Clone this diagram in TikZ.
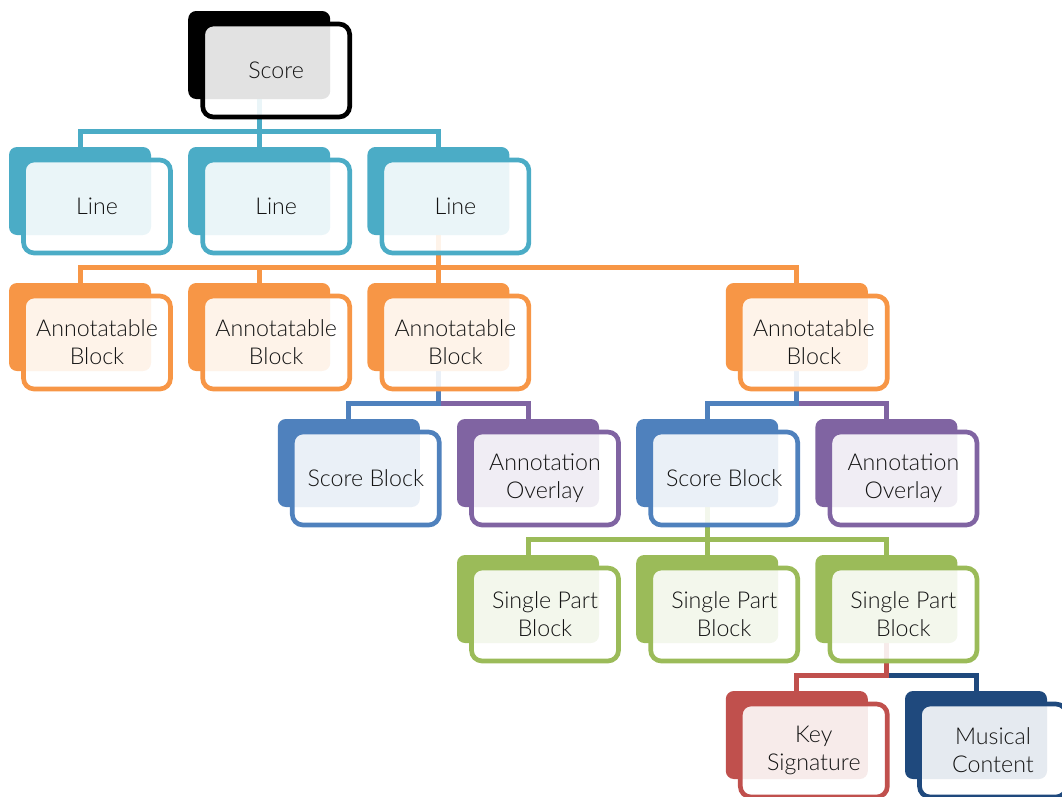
\documentclass[tikz,border=0pt]{standalone}
\usepackage{fontspec}
\setmainfont{Lato}[UprightFont=* Light]
\pgfdeclarelayer{background}
\pgfsetlayers{background,main}
\definecolor{cAqua}{HTML}{4BACC6}
\definecolor{cOrange}{HTML}{F79646}
\definecolor{cBlue}{HTML}{4F81BD}
\definecolor{cPurple}{HTML}{8064A2}
\definecolor{cGreen}{HTML}{9BBB59}
\definecolor{cRed}{HTML}{C0504D}
\definecolor{cNavy}{HTML}{1F497D}
\definecolor{cText}{HTML}{141414}
\tikzset{
  backbox/.style={rounded corners=6pt, minimum width=106.5pt, minimum height=66pt, inner sep=0pt},
  frontbox/.style={rounded corners=8pt, minimum width=110.25pt, minimum height=69.75pt, inner sep=0pt,
    line width=3.5pt, fill=white, fill opacity=0.885, text opacity=1, align=center,
    text=cText, font=\fontsize{17.4}{21}\selectfont},
  conn/.style={line width=3.75pt}
}
\newcommand\orgbox[5]{%
  \node[backbox, fill=#4] (#1-b) at ({9+89.6*#2+71},{11+136*#3+44}) {};
  \node[frontbox, draw=#4] (#1) at ({9+89.6*#2+88},{11+136*#3+59.5}) {#5};
}
\newcommand\orglink[3]{\draw[conn, draw=#3] (#1-b.south) -- ++(0,32) -| (#2-b.north);}
\begin{document}
\begin{tikzpicture}[x=0.75pt,y=-0.75pt]
\useasboundingbox (0,0) rectangle (1062,796);
\orgbox{score}{2}{0}{black}{Score}
\orgbox{l1}{0}{1}{cAqua}{Line}
\orgbox{l2}{2}{1}{cAqua}{Line}
\orgbox{l3}{4}{1}{cAqua}{Line}
\orgbox{a1}{0}{2}{cOrange}{Annotatable\\Block}
\orgbox{a2}{2}{2}{cOrange}{Annotatable\\Block}
\orgbox{a3}{4}{2}{cOrange}{Annotatable\\Block}
\orgbox{a4}{8}{2}{cOrange}{Annotatable\\Block}
\orgbox{sb1}{3}{3}{cBlue}{Score Block}
\orgbox{ao1}{5}{3}{cPurple}{Annotation\\Overlay}
\orgbox{sb2}{7}{3}{cBlue}{Score Block}
\orgbox{ao2}{9}{3}{cPurple}{Annotation\\Overlay}
\orgbox{sp1}{5}{4}{cGreen}{Single Part\\Block}
\orgbox{sp2}{7}{4}{cGreen}{Single Part\\Block}
\orgbox{sp3}{9}{4}{cGreen}{Single Part\\Block}
\orgbox{ks}{8}{5}{cRed}{Key\\Signature}
\orgbox{mc}{10}{5}{cNavy}{Musical\\Content}
\begin{pgfonlayer}{background}
\orglink{score}{l3}{cAqua}
\orglink{score}{l2}{cAqua}
\orglink{score}{l1}{cAqua}
\orglink{l3}{a4}{cOrange}
\orglink{l3}{a3}{cOrange}
\orglink{l3}{a2}{cOrange}
\orglink{l3}{a1}{cOrange}
\orglink{a3}{ao1}{cPurple}
\orglink{a3}{sb1}{cBlue}
\orglink{a4}{ao2}{cPurple}
\orglink{a4}{sb2}{cBlue}
\orglink{sb2}{sp3}{cGreen}
\orglink{sb2}{sp2}{cGreen}
\orglink{sb2}{sp1}{cGreen}
\orglink{sp3}{mc}{cNavy}
\orglink{sp3}{ks}{cRed}
\end{pgfonlayer}
\end{tikzpicture}
\end{document}
